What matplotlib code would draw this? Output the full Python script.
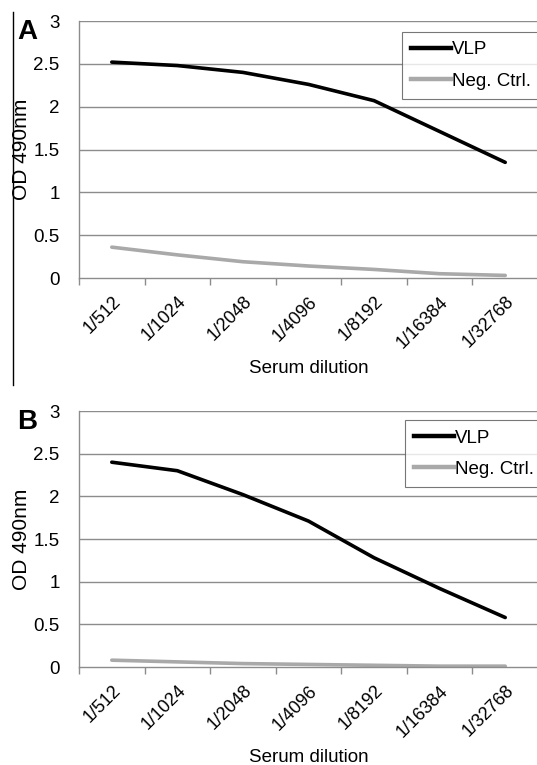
import matplotlib
matplotlib.use("Agg")
import matplotlib.pyplot as plt
from matplotlib.lines import Line2D
import numpy as np

plt.rcParams['font.family'] = ['Liberation Sans', 'DejaVu Sans']

categories = ["1/512", "1/1024", "1/2048", "1/4096", "1/8192", "1/16384", "1/32768"]
vlp_a = [2.52, 2.48, 2.40, 2.26, 2.07, 1.71, 1.35]
neg_a = [0.36, 0.27, 0.19, 0.14, 0.10, 0.05, 0.03]
vlp_b = [2.40, 2.30, 2.02, 1.71, 1.28, 0.92, 0.58]
neg_b = [0.08, 0.06, 0.04, 0.03, 0.02, 0.01, 0.01]
yticks = [0, 0.5, 1, 1.5, 2, 2.5, 3]
ytick_labels = ["0", "0.5", "1", "1.5", "2", "2.5", "3"]
series_names = ["VLP", "Neg. Ctrl."]

W, H = 537, 765
fig = plt.figure(figsize=(W/100, H/100), dpi=100)

def px_axes(x0, y_top, x1, y_bot):
    return [x0/W, 1 - y_bot/H, (x1-x0)/W, (y_bot-y_top)/H]

GRID = "#8c8c8c"
NEG = "#a9a9a9"
FS = 13.5

def draw_panel(rect, vlp, neg, legend_anchor):
    ax = fig.add_axes(rect)
    x = np.arange(len(categories))
    ax.set_xlim(-0.5, len(categories) - 0.5)
    ax.set_ylim(0, 3)
    for y in yticks[1:]:
        ax.axhline(y, color=GRID, lw=1.0, zorder=1)
    ax.plot(x, vlp, color="black", lw=2.6, solid_capstyle="round", zorder=3)
    ax.plot(x, neg, color=NEG, lw=2.6, solid_capstyle="round", zorder=2)
    ax.set_yticks(yticks)
    ax.set_yticklabels(ytick_labels, fontsize=FS)
    ax.tick_params(axis="y", length=0, pad=14)
    ax.set_xticks(x)
    ax.set_xticklabels(categories, rotation=45, ha="right", rotation_mode="anchor", fontsize=FS - 0.5)
    ax.tick_params(axis="x", which="major", length=0, pad=11)
    ax.set_xticks(np.arange(-0.5, len(categories) + 0.5, 1), minor=True)
    ax.tick_params(axis="x", which="minor", length=5, color=GRID, width=1.0)
    for s in ["top", "right"]:
        ax.spines[s].set_visible(False)
    for s in ["left", "bottom"]:
        ax.spines[s].set_color(GRID)
        ax.spines[s].set_linewidth(1.0)
    ax.set_ylabel("OD 490nm", fontsize=15, labelpad=2)
    ax.set_xlabel("Serum dilution", fontsize=FS, labelpad=6)
    handles = [Line2D([], [], color="black", lw=3.2), Line2D([], [], color=NEG, lw=3.2)]
    leg = fig.legend(handles, series_names, loc="upper left",
                     bbox_to_anchor=legend_anchor, fontsize=FS, frameon=True,
                     fancybox=False, edgecolor="#555555", handlelength=2.13,
                     handletextpad=0.05, borderpad=0.5, labelspacing=0.75,
                     borderaxespad=0)
    leg.get_frame().set_linewidth(0.8)
    return ax

axA = draw_panel(px_axes(79, 21, 538, 278), vlp_a, neg_a, (402/W, 1 - 32/H))
axB = draw_panel(px_axes(79, 411, 538, 667), vlp_b, neg_b, (405/W, 1 - 420/H))

fig.text(17/W, 1 - 39/H, "A", fontsize=20, fontweight="bold")
fig.text(17/W, 1 - 429/H, "B", fontsize=20, fontweight="bold")
fig.add_artist(Line2D([13/W, 13/W], [1 - 12/H, 1 - 385/H], color="black", lw=1.0))

fig.savefig("out.png", dpi=100)
